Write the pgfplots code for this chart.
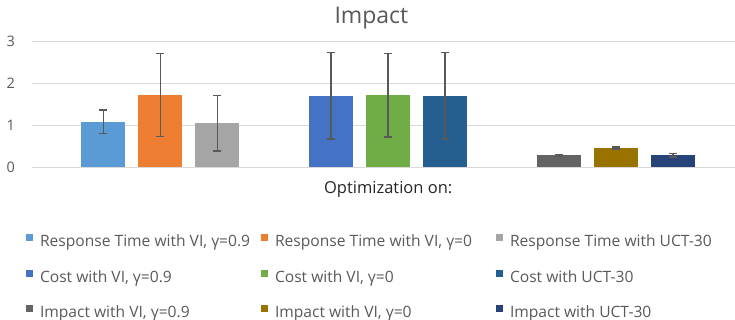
\documentclass[border=0pt]{standalone}
\usepackage{fontspec}
\setmainfont{Open Sans}
\usepackage{pgfplots}
\pgfplotsset{compat=1.18}
\definecolor{c1}{HTML}{5B9BD5}
\definecolor{c2}{HTML}{ED7D31}
\definecolor{c3}{HTML}{A5A5A5}
\definecolor{c4}{HTML}{4472C4}
\definecolor{c5}{HTML}{70AD47}
\definecolor{c6}{HTML}{255E91}
\definecolor{c7}{HTML}{636363}
\definecolor{c8}{HTML}{997300}
\definecolor{c9}{HTML}{264478}
\definecolor{txt}{HTML}{595959}
\definecolor{gridc}{HTML}{D9D9D9}
\definecolor{errc}{HTML}{595959}
\newcommand{\lgt}[1]{\makebox[228bp][l]{\rule[-4bp]{0pt}{14bp}\hspace{7bp}#1}}
\pgfplotsset{
  myerr/.style={error bars/.cd, y dir=both, y explicit,
    error bar style={color=errc, line width=1.6bp},
    error mark options={rotate=90, mark size=4bp, color=errc, line width=1.6bp}},
  lg/.style={legend image code/.code={\path[##1,draw=none] (0bp,1.5bp) rectangle (7bp,8.5bp);}},
}
\begin{document}
\begin{tikzpicture}
\useasboundingbox (0,0) rectangle (735bp,320bp);
\begin{axis}[
  at={(31.7bp,152.7bp)}, anchor=south west,
  scale only axis, width=703.3bp, height=125.6bp,
  xmin=-0.26, xmax=12.09, ymin=0, ymax=3,
  ytick={0,1,2,3}, xtick={6}, xticklabels={Optimization on:},
  axis line style={draw=none}, major tick length=0pt,
  ymajorgrids, grid style={color=gridc, line width=1.2bp},
  clip=false,
  /pgf/number format/assume math mode=true,
  yticklabel style={font=\fontsize{14.5bp}{14.5bp}\selectfont, text=txt, anchor=center, xshift=-21bp},
  xticklabel style={font=\fontsize{16.5bp}{16.5bp}\selectfont, text=black!85, anchor=base, yshift=-25.7bp},
  title={Impact},
  title style={at={(0.483,1)}, anchor=base, yshift=12bp, font=\fontsize{23bp}{23bp}\selectfont, text=txt},
  every axis plot/.append style={ybar, bar width=0.773, bar shift=0pt, draw=none},
  legend columns=3,
  legend cell align=left,
  legend style={at={(-0.0081,-0.535)}, anchor=north west, draw=none, fill=none,
    inner sep=0pt, outer sep=0pt, row sep=19bp, column sep=0pt,
    nodes={inner sep=0pt, outer sep=0pt, text depth=4bp},
    font=\fontsize{15.6bp}{15.6bp}\selectfont, text=txt},
]
\addplot[fill=c1, lg, myerr] coordinates {(1,1.09) +- (0,0.28)};
\addlegendentry{\lgt{Response Time with VI, γ=0.9}}
\addplot[fill=c2, lg, myerr] coordinates {(2,1.725) +- (0,0.99)};
\addlegendentry{\lgt{Response Time with VI, γ=0}}
\addplot[fill=c3, lg, myerr] coordinates {(3,1.05) +- (0,0.665)};
\addlegendentry{\lgt{Response Time with UCT-30}}
\addplot[fill=c4, lg, myerr] coordinates {(5,1.71) +- (0,1.035)};
\addlegendentry{\lgt{Cost with VI, γ=0.9}}
\addplot[fill=c5, lg, myerr] coordinates {(6,1.725) +- (0,0.995)};
\addlegendentry{\lgt{Cost with VI, γ=0}}
\addplot[fill=c6, lg, myerr] coordinates {(7,1.71) +- (0,1.035)};
\addlegendentry{\lgt{Cost with UCT-30}}
\addplot[fill=c7, lg, myerr] coordinates {(9,0.285) +- (0,0.025)};
\addlegendentry{\lgt{Impact with VI, γ=0.9}}
\addplot[fill=c8, lg, myerr] coordinates {(10,0.46) +- (0,0.02)};
\addlegendentry{\lgt{Impact with VI, γ=0}}
\addplot[fill=c9, lg, myerr] coordinates {(11,0.285) +- (0,0.04)};
\addlegendentry{\lgt{Impact with UCT-30}}
\end{axis}
\end{tikzpicture}
\end{document}
